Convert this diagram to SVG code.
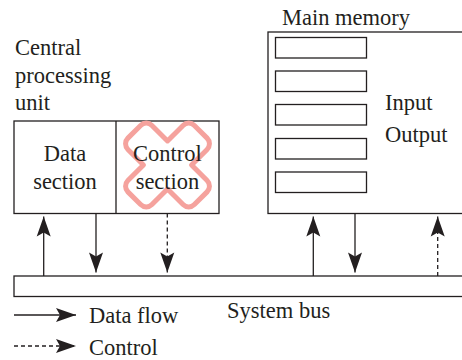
<svg xmlns="http://www.w3.org/2000/svg" width="462" height="360" viewBox="0 0 462 360">
  <defs>
    <marker id="head" markerUnits="userSpaceOnUse" markerWidth="22" markerHeight="16" viewBox="-21 -8 22 16" refX="0" refY="0" orient="auto">
      <path d="M0,0 L-20,-7 L-16,0 L-20,7 Z" fill="#231f20"/>
    </marker>
  </defs>
  <style>
    .box { fill: #fff; stroke: #231f20; stroke-width: 1.3; }
    .cell { fill: none; stroke: #231f20; stroke-width: 1.3; }
    .flow { fill: none; stroke: #231f20; stroke-width: 1.3; marker-end: url(#head); }
    .ctrl { stroke-dasharray: 4 3; }
    text { font-size: 22.5px; fill: #231f20; }
    .mid { text-anchor: middle; }
  </style>
  <rect width="462" height="360" fill="#fff"/>

  <g font-family="Liberation Serif, DejaVu Serif, serif">
  <!-- central processing unit -->
  <g id="cpu">
    <text x="15" y="55">Central</text>
    <text x="15" y="83">processing</text>
    <text x="15" y="110">unit</text>
    <rect class="box" x="14" y="121" width="205" height="92.5"/>
    <line class="cell" x1="116" y1="121" x2="116" y2="213.5"/>
  </g>
  <g id="data-section">
    <text class="mid" x="65" y="161">Data</text>
    <text class="mid" x="65" y="189">section</text>
  </g>
  <g id="control-section">
    <path d="M-17,-39 A8,8 0 0 1 -9,-47 L9,-47 A8,8 0 0 1 17,-39 L17,-17 L39,-17 A8,8 0 0 1 47,-9 L47,9 A8,8 0 0 1 39,17 L17,17 L17,39 A8,8 0 0 1 9,47 L-9,47 A8,8 0 0 1 -17,39 L-17,17 L-39,17 A8,8 0 0 1 -47,9 L-47,-9 A8,8 0 0 1 -39,-17 L-17,-17 Z" transform="translate(167.5,165) rotate(45)" fill="none" stroke="#f5a29d" stroke-width="5" stroke-linejoin="round"/>
    <text class="mid" x="167.5" y="161">Control</text>
    <text class="mid" x="167.5" y="189">section</text>
  </g>

  <!-- main memory -->
  <g id="main-memory">
    <text x="282" y="25">Main memory</text>
    <rect class="box" x="268" y="32" width="210" height="181.5"/>
    <rect class="cell" x="275.5" y="37.5" width="91" height="20.5"/>
    <rect class="cell" x="275.5" y="71" width="91" height="20.5"/>
    <rect class="cell" x="275.5" y="104.5" width="91" height="20.5"/>
    <rect class="cell" x="275.5" y="138.5" width="91" height="20.5"/>
    <rect class="cell" x="275.5" y="172" width="91" height="20.5"/>
    <text x="385" y="110">Input</text>
    <text x="385" y="141.5">Output</text>
  </g>

  <!-- system bus -->
  <g id="system-bus">
    <rect class="box" x="14" y="276" width="464" height="20.5"/>
    <text x="227" y="318">System bus</text>
  </g>

  <!-- connectors -->
  <g id="connectors">
    <line class="flow" x1="43.7" y1="276" x2="43.7" y2="216.5"/>
    <line class="flow" x1="96" y1="213.5" x2="96" y2="272.5"/>
    <line class="flow ctrl" x1="167.3" y1="213.5" x2="167.3" y2="272.5"/>
    <line class="flow" x1="313.3" y1="276" x2="313.3" y2="216.5"/>
    <line class="flow" x1="355" y1="213.5" x2="355" y2="272.5"/>
    <line class="flow ctrl" x1="437.7" y1="276" x2="437.7" y2="216.5"/>
  </g>

  <!-- legend -->
  <g id="legend">
    <line class="flow" x1="14" y1="315" x2="76" y2="315"/>
    <text x="89" y="323">Data flow</text>
    <line class="flow ctrl" x1="14" y1="346" x2="76" y2="346"/>
    <text x="89" y="355">Control</text>
  </g>
  </g>
</svg>
